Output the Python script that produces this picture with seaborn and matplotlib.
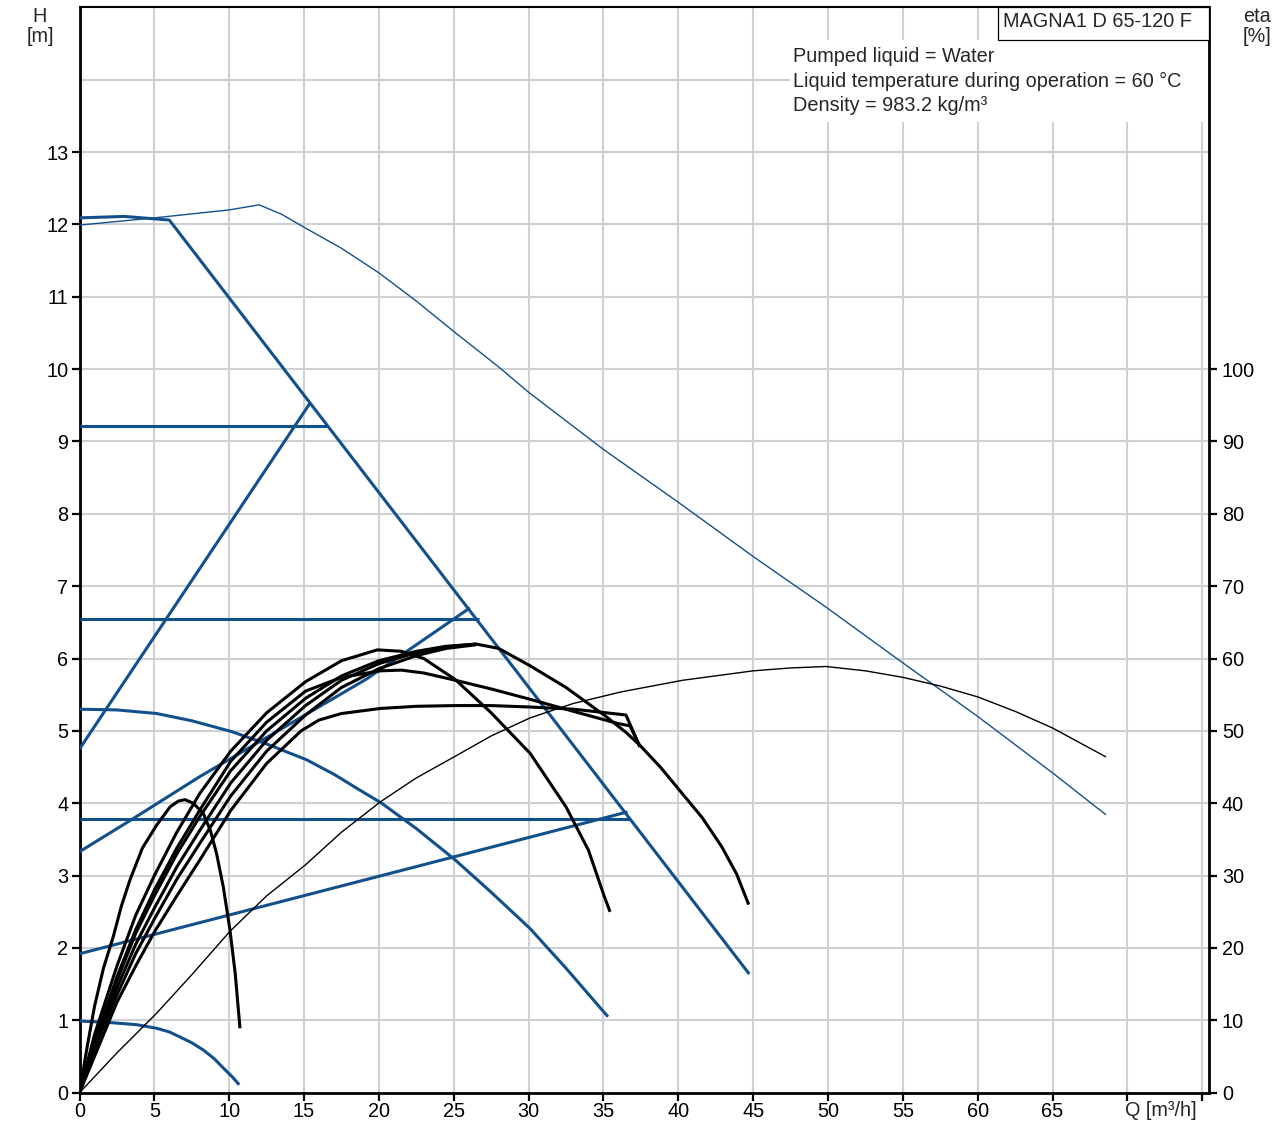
import matplotlib
matplotlib.use("Agg")
import matplotlib.pyplot as plt
import seaborn as sns
from matplotlib.patches import Rectangle

sns.set_theme(style="white")
plt.rcParams['font.family'] = ['Liberation Sans', 'DejaVu Sans']
plt.rcParams['lines.solid_joinstyle'] = 'round'
plt.rcParams['lines.solid_capstyle'] = 'butt'

# ---------------- data ----------------
q_ticks = list(range(0, 76, 5))
q_labels = [str(v) for v in range(0, 70, 5)] + ["", ""]
h_ticks = list(range(0, 14))
eta_ticks = list(range(0, 101, 10))
eta_labels = [str(v) for v in eta_ticks]

# blue (head) curves
max_q = [0, 3, 6.0, 44.74]
max_h = [12.09, 12.11, 12.06, 1.64]

cp1_q = [0, 16.51]; cp1_h = [9.21, 9.21]
cp2_q = [0, 26.69]; cp2_h = [6.54, 6.54]
cp3_q = [0, 36.77]; cp3_h = [3.78, 3.78]

pp1_q = [0, 15.4]; pp1_h = [4.75, 9.53]
pp2_q = [0, 3.37, 8.05, 19.2, 26.08]; pp2_h = [3.33, 3.76, 4.37, 5.72, 6.70]
pp3_q = [0, 9.9, 36.6]; pp3_h = [1.92, 2.45, 3.88]

min1_q = [0, 2.5, 5.16, 7.5, 10.17, 12.5, 15.18, 17, 18.74, 20.19, 22.5, 25.08, 27.5, 30.09, 32.5, 35.3]
min1_h = [5.30, 5.29, 5.24, 5.14, 4.99, 4.82, 4.60, 4.40, 4.18, 4.00, 3.65, 3.22, 2.77, 2.27, 1.72, 1.05]

min2_q = [0, 2, 3.82, 5.16, 6, 6.71, 7.5, 8.27, 9, 9.61, 10.2, 10.67]
min2_h = [0.99, 0.97, 0.94, 0.89, 0.84, 0.77, 0.69, 0.59, 0.47, 0.34, 0.22, 0.11]

thinb_q = [0, 5, 10, 12, 13.5, 15, 17.5, 20, 22.5, 25, 28, 30, 35, 40, 45, 49.87, 55, 60, 65, 68.57]
thinb_h = [11.99, 12.09, 12.2, 12.27, 12.14, 11.96, 11.67, 11.33, 10.94, 10.52, 10.03, 9.68, 8.89, 8.16, 7.41, 6.71, 5.94, 5.20, 4.42, 3.84]

# black (efficiency) curves, plotted on the head scale (eta / 10)
think_q = [0, 2.5, 5.16, 7.5, 10.05, 12.5, 15.1, 17.5, 20.1, 22.5, 25.1, 27.5, 30.1, 33, 36.2,
           40.3, 45, 47.5, 49.87, 52.5, 55, 57.5, 60, 62.5, 65, 68.57]
think_h = [0, 0.55, 1.10, 1.63, 2.23, 2.72, 3.15, 3.6, 4.02, 4.35, 4.65, 4.93, 5.18, 5.38, 5.54,
           5.70, 5.83, 5.87, 5.89, 5.83, 5.74, 5.62, 5.47, 5.27, 5.04, 4.64]

k1_q = [0, 0.5, 1.0, 1.6, 2.26, 2.8, 3.37, 4.2, 5.16, 6.05, 6.6, 7.05, 7.6, 8.27, 8.75, 9.16, 9.6, 10.05, 10.4, 10.72]
k1_h = [0, 0.62, 1.19, 1.72, 2.16, 2.58, 2.94, 3.38, 3.70, 3.95, 4.03, 4.05, 4.0, 3.86, 3.62, 3.3, 2.85, 2.25, 1.65, 0.89]

k2_q = [0, 1, 2.5, 3.75, 5, 6.5, 8.05, 10.1, 12.5, 15.1, 17.5, 19.9, 21.5, 23, 25.1, 27.5, 30.1, 32.5, 34, 35.06, 35.44]
k2_h = [0, 0.8, 1.75, 2.45, 3.0, 3.6, 4.14, 4.72, 5.25, 5.68, 5.97, 6.12, 6.1, 6.0, 5.71, 5.25, 4.69, 3.95, 3.35, 2.71, 2.50]

kc_q = [0, 1, 2.5, 3.75, 5, 6.5, 8.05, 10.1, 12.5, 15.1, 17.5, 20.1, 21.5, 23, 25.1, 27.5, 30.4, 33, 36, 36.77, 37.44]
kc_h = [0, 0.7, 1.6, 2.25, 2.8, 3.38, 3.91, 4.58, 5.12, 5.55, 5.74, 5.83, 5.84, 5.8, 5.70, 5.58, 5.42, 5.27, 5.10, 5.07, 4.78]

ka_q = [0, 1, 2.5, 3.75, 5, 6.5, 8.05, 10.1, 12.5, 15.1, 17.5, 20, 22.5, 24.5, 26.5, 28, 30.1, 32.5,
        35.1, 36.5, 37.44, 38.8, 40.2, 41.6, 42.9, 43.9, 44.7]
ka_h = [0, 0.72, 1.55, 2.2, 2.72, 3.3, 3.82, 4.45, 5.0, 5.45, 5.76, 5.97, 6.1, 6.17, 6.2, 6.14, 5.9, 5.6,
        5.21, 4.98, 4.8, 4.5, 4.15, 3.8, 3.4, 3.02, 2.6]

kb_q = [0, 1, 2.5, 3.75, 5, 6.5, 8.05, 10.1, 12.5, 15.1, 17.5, 20, 22.5, 24.5, 26.5]
kb_h = [0, 0.65, 1.45, 2.05, 2.55, 3.12, 3.63, 4.28, 4.87, 5.35, 5.70, 5.93, 6.08, 6.16, 6.2]

kx_q = [0, 1, 2.5, 3.75, 5, 6.5, 8.05, 10.1, 12.5, 15.1, 17.5, 20, 22.5, 24.5, 26.5]
kx_h = [0, 0.6, 1.35, 1.92, 2.4, 2.95, 3.45, 4.1, 4.72, 5.22, 5.6, 5.86, 6.04, 6.14, 6.19]

kd_q = [0, 1, 2.5, 3.75, 5, 6.5, 8.05, 10.1, 12.5, 14.8, 16, 17.5, 20.1, 22.5, 25.1, 27.5, 30.1, 33, 36.5, 37.44]
kd_h = [0, 0.5, 1.25, 1.75, 2.22, 2.72, 3.22, 3.9, 4.55, 5.0, 5.15, 5.24, 5.31, 5.34, 5.35, 5.35, 5.33, 5.3, 5.22, 4.78]

title_text = "MAGNA1 D 65-120 F"
info_lines = ["Pumped liquid = Water",
              "Liquid temperature during operation = 60 \u00b0C",
              "Density = 983.2 kg/m\u00b3"]

# ---------------- figure ----------------
W, Hpx = 1284, 1124
fig = plt.figure(figsize=(W / 100, Hpx / 100), dpi=100)
x0, x1, ytop, ybot = 79.5, 1209.3, 7.3, 1092.7
ax = fig.add_axes([x0 / W, 1 - ybot / Hpx, (x1 - x0) / W, (ybot - ytop) / Hpx])

BLUE = "#12508c"
GRID = "#cdd1d5"
THICK = 2.2
THIN = 1.0
FS = 14.3

ax.set_xlim(0, 75.47)
ax.set_ylim(0, 15.0)


def draw(q, h, color, lw, z=3):
    sns.lineplot(x=q, y=h, ax=ax, color=color, linewidth=lw, sort=False,
                 estimator=None, legend=False, zorder=z)


draw(thinb_q, thinb_h, BLUE, THIN)
for q, h in [(max_q, max_h), (cp1_q, cp1_h), (cp2_q, cp2_h), (cp3_q, cp3_h),
             (pp1_q, pp1_h), (pp2_q, pp2_h), (pp3_q, pp3_h),
             (min1_q, min1_h), (min2_q, min2_h)]:
    draw(q, h, BLUE, THICK)
draw(think_q, think_h, "black", THIN)
for q, h in [(k1_q, k1_h), (k2_q, k2_h), (kc_q, kc_h), (ka_q, ka_h),
             (kb_q, kb_h), (kx_q, kx_h), (kd_q, kd_h)]:
    draw(q, h, "black", THICK)

# grid
ax.set_axisbelow(True)
ax.set_xticks(q_ticks)
ax.set_xticklabels(q_labels)
ax.set_yticks(h_ticks)
ax.set_yticklabels([str(v) for v in h_ticks])
ax.grid(True, color=GRID, linewidth=1.5, zorder=0)
ax.axhline(14, color=GRID, linewidth=1.5, zorder=0.5)

for s in ax.spines.values():
    s.set_color("black")
    s.set_linewidth(2.0)
ax.spines["top"].set_linewidth(1.5)

ax.tick_params(axis="both", which="major", direction="out", length=6, width=1.6,
               labelsize=FS, colors="black", bottom=True, left=True)
ax.tick_params(axis="x", pad=1.0)
ax.tick_params(axis="y", pad=2)

ax.text(69.85, -0.016, "Q [m\u00b3/h]", transform=ax.get_xaxis_transform(),
        ha="left", va="center", fontsize=FS)

# right axis (eta)
ax2 = ax.twinx()
ax2.set_ylim(0, 150)
ax2.set_yticks(eta_ticks)
ax2.set_yticklabels(eta_labels)
ax2.grid(False)
for s in ax2.spines.values():
    s.set_visible(False)
ax2.tick_params(axis="y", direction="out", length=6, width=1.6, labelsize=FS,
                colors="black", right=True, left=False, pad=3)

# info box
axw, axh = x1 - x0, ybot - ytop


def fx(px):
    return (px - x0) / axw


def fy(py):
    return 1 - (py - ytop) / axh


ax.add_patch(Rectangle((fx(790), fy(122)), 1 - fx(790), fy(40) - fy(122),
                       transform=ax.transAxes, facecolor="white", edgecolor="none",
                       zorder=1))
ax.add_patch(Rectangle((fx(998), fy(40)), 1 - fx(998), 1 - fy(40),
                       transform=ax.transAxes, facecolor="white", edgecolor="black",
                       linewidth=0.9, zorder=4))
ax.text(fx(1003), fy(21.5), title_text, transform=ax.transAxes, ha="left",
        va="center", fontsize=FS, zorder=5)
for i, line in enumerate(info_lines):
    ax.text(fx(793), fy(56 + 25 * i), line, transform=ax.transAxes, ha="left",
            va="center", fontsize=FS, zorder=5)

# axis unit labels
fig.text(40 / W, 1 - 17 / Hpx, "H", ha="center", va="center", fontsize=FS)
fig.text(40 / W, 1 - 36 / Hpx, "[m]", ha="center", va="center", fontsize=FS)
fig.text(1257 / W, 1 - 17 / Hpx, "eta", ha="center", va="center", fontsize=FS)
fig.text(1257 / W, 1 - 36 / Hpx, "[%]", ha="center", va="center", fontsize=FS)

fig.savefig("out.png", dpi=100)
